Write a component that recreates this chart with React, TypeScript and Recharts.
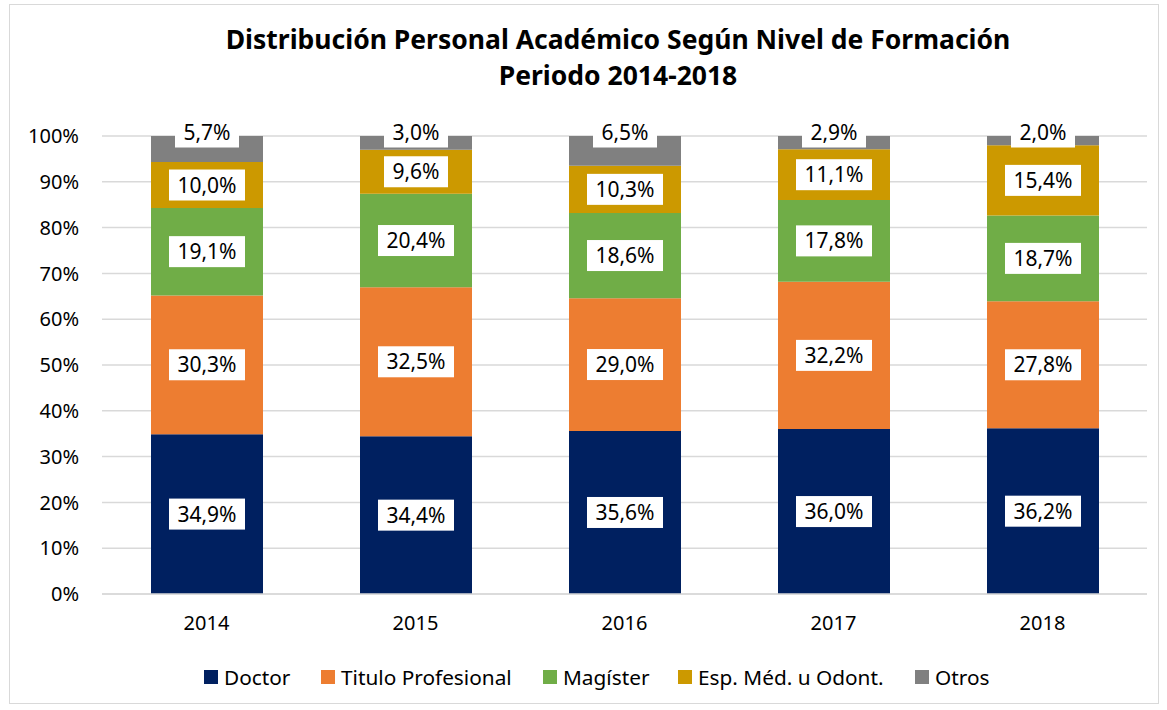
import { BarChart, Bar, XAxis, YAxis, CartesianGrid, LabelList } from "recharts";

const years = ["2014", "2015", "2016", "2017", "2018"];
const doctor = [34.9, 34.4, 35.6, 36.0, 36.2];
const titulo = [30.3, 32.5, 29.0, 32.2, 27.8];
const magister = [19.1, 20.4, 18.6, 17.8, 18.7];
const espMed = [10.0, 9.6, 10.3, 11.1, 15.4];
const otros = [5.7, 3.0, 6.5, 2.9, 2.0];
const yTicks = [0, 0.1, 0.2, 0.3, 0.4, 0.5, 0.6, 0.7, 0.8, 0.9, 1];

const series = [
  { key: "doctor", name: "Doctor", color: "#002060" },
  { key: "titulo", name: "Titulo Profesional", color: "#ED7D31" },
  { key: "magister", name: "Magíster", color: "#70AD47" },
  { key: "esp", name: "Esp. Méd. u Odont.", color: "#CC9900" },
  { key: "otros", name: "Otros", color: "#808080" },
];

// legend square positions
const legendX = [204, 321, 543, 678, 915];

const data = years.map((y, i) => ({
  year: y,
  doctor: doctor[i],
  titulo: titulo[i],
  magister: magister[i],
  esp: espMed[i],
  otros: otros[i],
}));

const FONT = "'Noto Sans', 'DejaVu Sans', sans-serif";

const fmt = (v: number) => v.toFixed(1).replace(".", ",") + "%";

function BoxLabel(props: any, top: boolean) {
  const { x, y, width, height, value } = props;
  const txt = fmt(Number(value));
  const w = txt.length * 12 + 16;
  const h = 31;
  const cx = x + width / 2;
  const cy = top ? y - 4 : y + height / 2;
  return (
    <g>
      <rect x={cx - w / 2} y={cy - h / 2} width={w} height={h} fill="#ffffff" />
      <text
        x={cx}
        y={cy}
        dy="0.36em"
        textAnchor="middle"
        fontSize={21}
        fontFamily={FONT}
        fill="#000000"
      >
        {txt}
      </text>
    </g>
  );
}

export default function App() {
  return (
    <div style={{ position: "relative", width: 1167, height: 710, background: "#fff", fontFamily: FONT }}>
      <style>{"body{margin:0}"}</style>
      <div
        style={{
          position: "absolute",
          left: 9,
          top: 4,
          width: 1150,
          height: 700,
          border: "1.5px solid #d9d9d9",
          boxSizing: "border-box",
        }}
      />
      <div
        style={{
          position: "absolute",
          left: 0,
          width: 1236,
          top: 21,
          textAlign: "center",
          fontWeight: 700,
          fontSize: 26.5,
          lineHeight: "36px",
          color: "#000",
        }}
      >
        <div>Distribución Personal Académico Según Nivel de Formación</div>
        <div>Periodo 2014-2018</div>
      </div>
      <div style={{ position: "absolute", left: 0, top: 0 }}>
        <BarChart
          width={1167}
          height={710}
          data={data}
          stackOffset="expand"
          margin={{ top: 136, right: 20, bottom: 66, left: 22 }}
          barSize={112}
        >
          <CartesianGrid vertical={false} stroke="#d9d9d9" strokeWidth={1.5} />
          <XAxis
            dataKey="year"
            axisLine={{ stroke: "#d9d9d9", strokeWidth: 1.5 }}
            tickLine={false}
            tickSize={0}
            tickMargin={22}
            height={50}
            tick={{ fontSize: 20, fill: "#000", fontFamily: FONT }}
          />
          <YAxis
            width={80}
            domain={[0, 1]}
            ticks={yTicks}
            interval={0}
            axisLine={false}
            tickLine={false}
            tickSize={0}
            tickMargin={23}
            tickFormatter={(v: number) => Math.round(v * 100) + "%"}
            tick={{ fontSize: 20, fill: "#000", fontFamily: FONT }}
          />
          {series.map((s, i) => (
            <Bar key={s.key} dataKey={s.key} name={s.name} stackId="a" fill={s.color} isAnimationActive={false}>
              <LabelList
                dataKey={s.key}
                content={(p: any) => BoxLabel(p, i === series.length - 1)}
              />
            </Bar>
          ))}
        </BarChart>
      </div>
      {series.map((s, i) => (
        <div
          key={s.key}
          style={{
            position: "absolute",
            left: legendX[i],
            top: 663,
            display: "flex",
            alignItems: "center",
            gap: 6,
            fontSize: 20.8,
            color: "#000",
            whiteSpace: "nowrap",
          }}
        >
          <span style={{ display: "inline-block", width: 14, height: 14, background: s.color }} />
          <span>{s.name}</span>
        </div>
      ))}
    </div>
  );
}
